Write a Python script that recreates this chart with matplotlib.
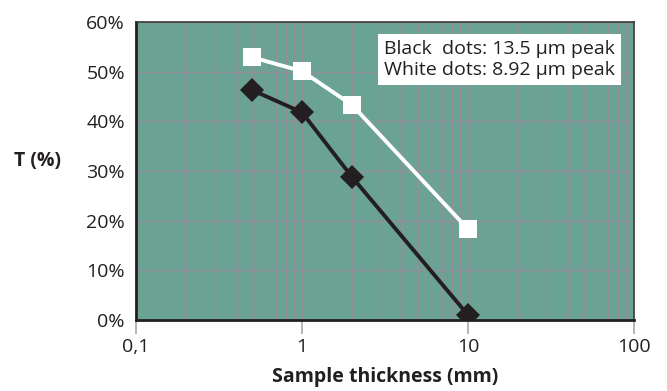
import matplotlib

matplotlib.use("Agg")

import matplotlib.pyplot as plt
from matplotlib.ticker import LogLocator, NullFormatter

# sample thickness (mm) and transmission (%)
thickness = [0.5, 1, 2, 10]
black_T = [46.3, 41.8, 28.8, 1.0]
white_T = [52.9, 50.1, 43.3, 18.3]

x_ticks = [0.1, 1, 10, 100]
x_tick_labels = ["0,1", "1", "10", "100"]
y_ticks = [0, 10, 20, 30, 40, 50, 60]

plt.rcParams["font.family"] = ["Open Sans", "DejaVu Sans"]

BG = "#6aa394"
GRID = "#928f9a"
TEXT = "#231f20"
FS = 14

fig = plt.figure(figsize=(6.67, 3.91), dpi=100)
ax = fig.add_axes([136 / 667, 1 - 320 / 391, (634 - 136) / 667, (320 - 22) / 391])
ax.set_facecolor(BG)

ax.plot(thickness, white_T, color="white", linewidth=2.8, marker="s",
        markersize=13.5, markeredgewidth=0, zorder=3)
ax.plot(thickness, black_T, color=TEXT, linewidth=2.8, marker="D",
        markersize=12, markeredgewidth=0, zorder=4)

ax.set_xscale("log")
ax.set_xlim(0.1, 100)
ax.set_ylim(0, 60)
ax.set_xticks(x_ticks, x_tick_labels)
ax.xaxis.set_minor_locator(LogLocator(base=10, subs=range(2, 10)))
ax.xaxis.set_minor_formatter(NullFormatter())
ax.set_yticks(y_ticks, [f"{v}%" for v in y_ticks])

ax.grid(True, which="both", axis="x", color=GRID, linewidth=1.0)
ax.grid(True, which="major", axis="y", color=GRID, linewidth=1.0)
ax.set_axisbelow(True)

ax.tick_params(axis="x", which="major", length=10, width=1.2, color="#a8a8a8",
               labelsize=FS, labelcolor=TEXT, pad=3)
ax.tick_params(axis="x", which="minor", length=0)
ax.tick_params(axis="y", length=0, labelsize=FS, labelcolor=TEXT, pad=8)

for side in ["left", "bottom"]:
    ax.spines[side].set_color(TEXT)
    ax.spines[side].set_linewidth(2.0)
for side in ["top", "right"]:
    ax.spines[side].set_color("#3a3a3a")
    ax.spines[side].set_linewidth(1.2)

ax.set_xlabel("Sample thickness (mm)", fontsize=FS, fontweight="bold",
              color=TEXT, labelpad=8)
fig.text(14 / 667, 1 - 161 / 391, "T (%)", fontsize=FS, fontweight="bold",
         color=TEXT, ha="left", va="center")

ax.text(0.962, 0.94, "Black  dots: 13.5 \u00b5m peak\nWhite dots: 8.92 \u00b5m peak",
        transform=ax.transAxes, ha="right", va="top", fontsize=FS, color=TEXT,
        linespacing=1.2, zorder=5,
        bbox=dict(boxstyle="square,pad=0.3", facecolor="white", edgecolor="none"))

fig.savefig("out.png", dpi=100)
